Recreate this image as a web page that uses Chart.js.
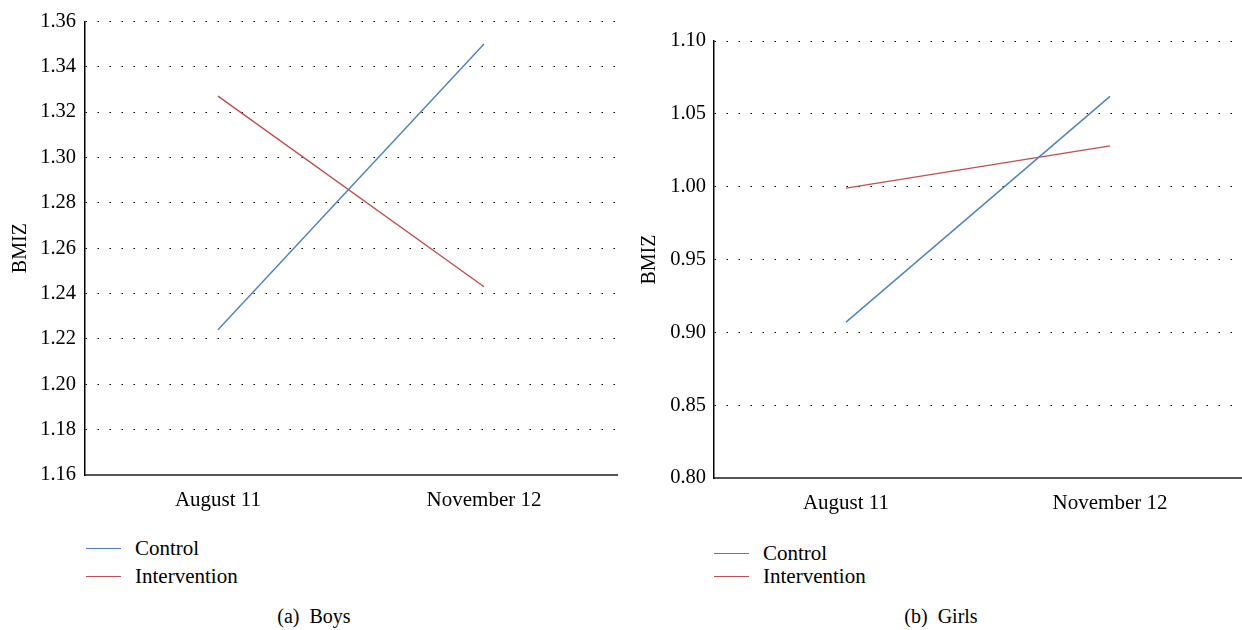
<!DOCTYPE html>
<html>
<head>
<meta charset="utf-8">
<script src="https://cdn.jsdelivr.net/npm/chart.js@4"></script>
<style>
  body { margin: 0; background: #fff; width: 1242px; height: 630px; position: relative; overflow: hidden; }
  canvas { position: absolute; top: 0; }
  .legend, .caption { position: absolute; font-family: "Liberation Serif", serif; color: #000; }
  .legend div { position: absolute; white-space: nowrap; font-size: 21px; line-height: 21px; }
  .legend span { position: absolute; height: 0; border-top: 1.5px solid; }
  .caption { font-size: 20px; top: 605px; white-space: pre; transform: translateX(-50%); }
</style>
</head>
<body>
<canvas id="boys" width="620" height="520" style="left:0px"></canvas>
<canvas id="girls" width="622" height="523" style="left:620px"></canvas>
<div class="legend" id="boys-legend"></div>
<div class="legend" id="girls-legend"></div>
<div class="caption" style="left:314px">(a)  Boys</div>
<div class="caption" style="left:941px">(b)  Girls</div>

<script>
// Data
const categories = ['August 11', 'November 12'];
const seriesNames = ['Control', 'Intervention'];
const seriesColors = ['#4f81bd', '#c0504d'];

const boysControl = [1.224, 1.350];
const boysIntervention = [1.327, 1.243];
const girlsControl = [0.907, 1.062];
const girlsIntervention = [0.999, 1.028];

// y axis ranges: [min, max, step]
const boysTicks = [1.16, 1.36, 0.02];
const girlsTicks = [0.80, 1.10, 0.05];

const fontFamily = '"Liberation Serif", serif';

// Build one BMIZ chart
function makeChart(id, control, intervention, ticks, opts) {
  const ctx = document.getElementById(id).getContext('2d');
  return new Chart(ctx, {
    type: 'line',
    data: {
      labels: categories,
      datasets: [control, intervention].map((values, i) => ({
        label: seriesNames[i],
        data: values,
        borderColor: seriesColors[i],
        backgroundColor: seriesColors[i],
        borderWidth: 1.4,
        pointRadius: 0,
        tension: 0
      }))
    },
    options: {
      responsive: false,
      animation: false,
      layout: { padding: { top: opts.top, right: opts.right, left: 0, bottom: 0 } },
      plugins: {
        legend: { display: false },
        tooltip: { enabled: false }
      },
      scales: {
        x: {
          offset: true,
          grid: { display: false },
          border: { display: true, color: '#555', width: 2 },
          ticks: { color: '#000', padding: 5, font: { family: fontFamily, size: 21 } },
          afterFit: scale => { scale.height = opts.xHeight; }
        },
        y: {
          min: ticks[0],
          max: ticks[1],
          grid: { color: '#000', lineWidth: 1, drawTicks: false },
          border: { display: true, color: '#000', width: 1.5, dash: [1.5, 10.5] },
          ticks: {
            stepSize: ticks[2],
            color: '#000',
            padding: opts.tickPad,
            font: { family: fontFamily, size: 20.5 },
            callback: v => Number(v).toFixed(2)
          },
          title: {
            display: true,
            text: 'BMIZ',
            color: '#000',
            padding: { top: opts.titlePad, bottom: 0 },
            font: { family: fontFamily, size: 20 }
          },
          afterFit: scale => { scale.width = opts.yWidth; }
        }
      }
    }
  });
}

// HTML legend, one entry per line
function makeLegend(id, left, top, gap, chart) {
  const box = document.getElementById(id);
  chart.data.datasets.forEach((ds, i) => {
    const y = top + i * gap;
    const line = document.createElement('span');
    line.style.left = left + 'px';
    line.style.top = y + 'px';
    line.style.width = '35px';
    line.style.borderColor = ds.borderColor;
    const text = document.createElement('div');
    text.textContent = ds.label;
    text.style.left = (left + 49) + 'px';
    text.style.top = (y - 10) + 'px';
    box.appendChild(line);
    box.appendChild(text);
  });
}

const boysChart = makeChart('boys', boysControl, boysIntervention, boysTicks,
  { top: 18, right: 3, xHeight: 45, yWidth: 85, tickPad: 9, titlePad: 9 });
const girlsChart = makeChart('girls', girlsControl, girlsIntervention, girlsTicks,
  { top: 41, right: 0, xHeight: 45, yWidth: 94, tickPad: 8, titlePad: 18 });

makeLegend('boys-legend', 86, 548, 28, boysChart);
makeLegend('girls-legend', 714, 553, 23, girlsChart);
</script>
</body>
</html>
